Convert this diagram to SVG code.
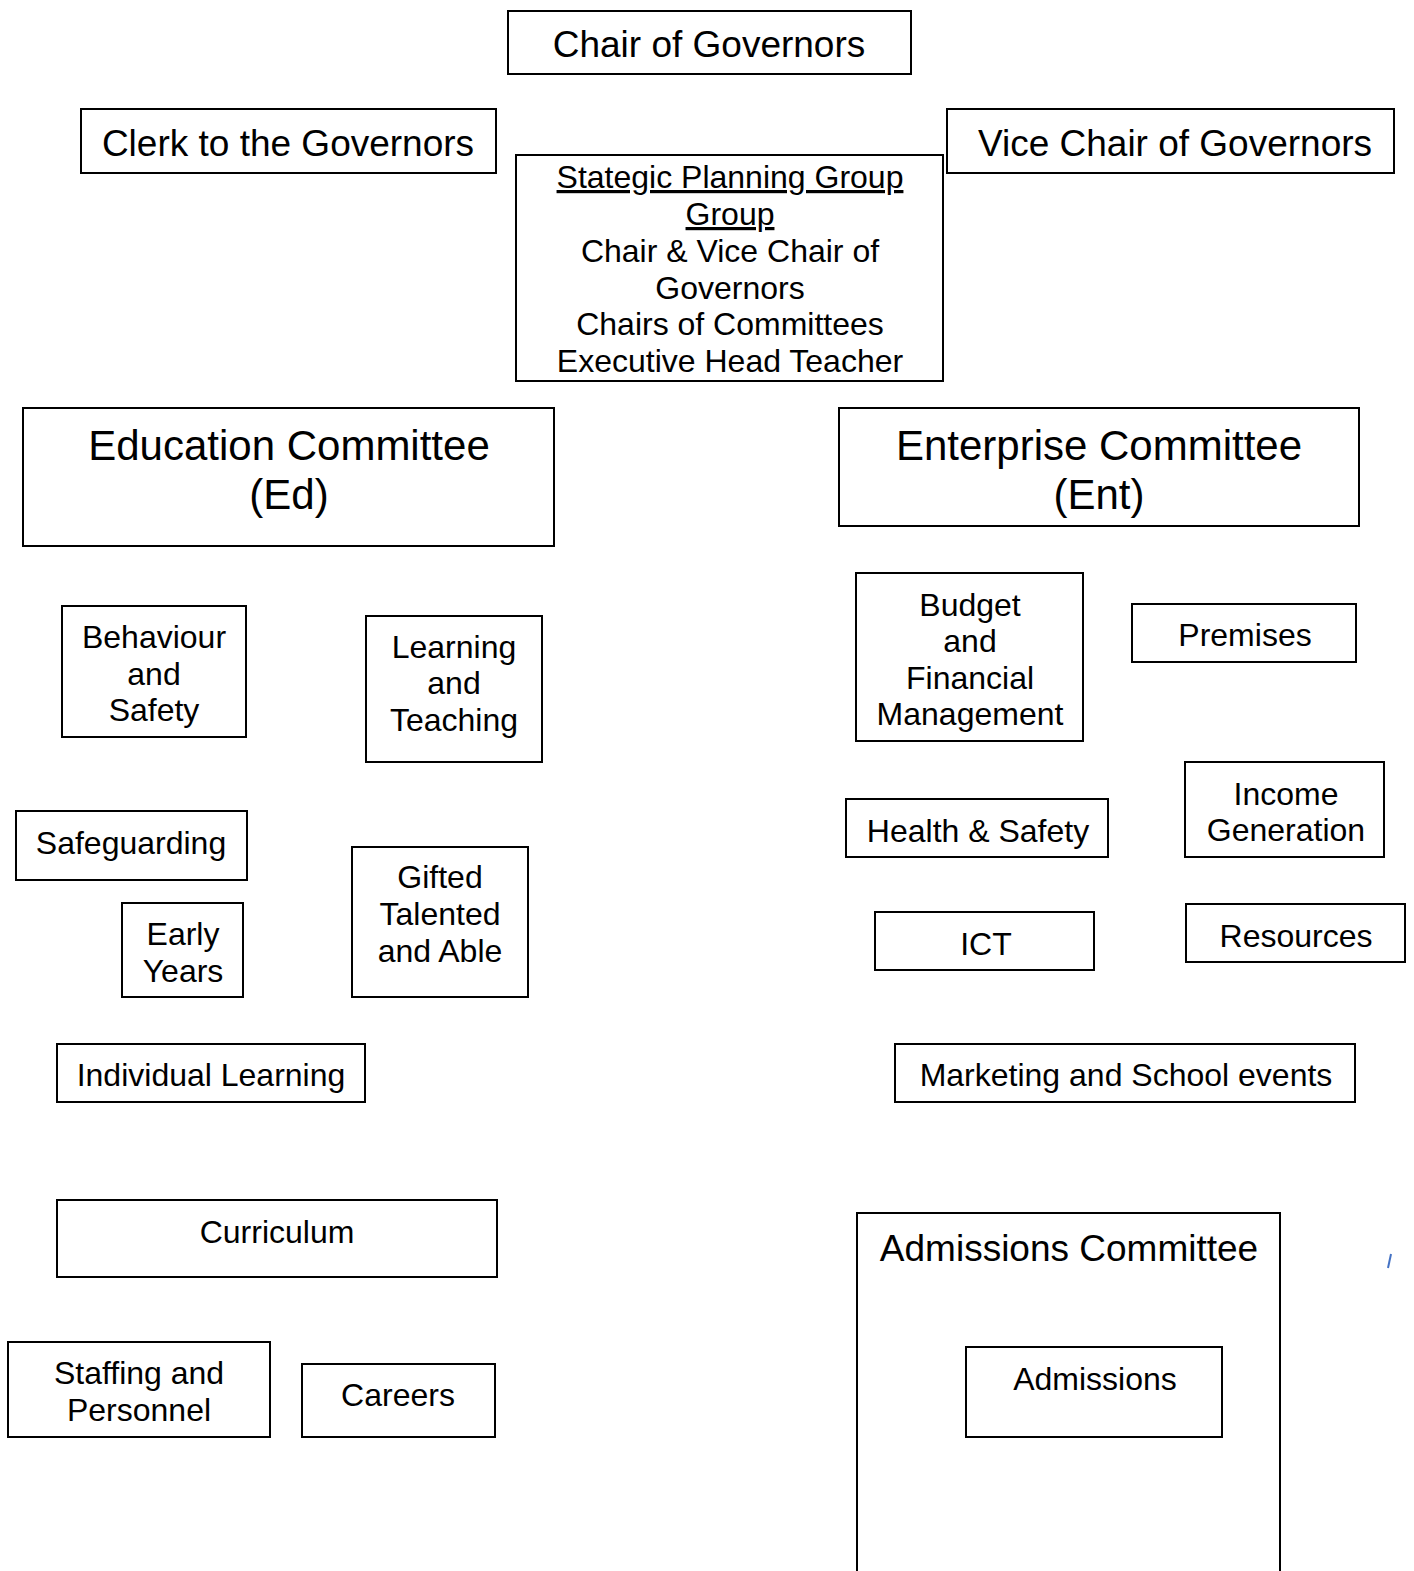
<svg xmlns="http://www.w3.org/2000/svg" width="1414" height="1571" viewBox="0 0 1414 1571">
<style>
rect.b{fill:#fff;stroke:#000;stroke-width:2}
text{font-family:"Liberation Sans",Arial,sans-serif;fill:#000;text-anchor:middle}
.t37{font-size:37px}
.t32{font-size:32px}
.t42{font-size:42px}
.t31{font-size:32px}
</style>
<rect width="1414" height="1571" fill="#fff"/>
<g id="chair"><rect class="b" x="508" y="11" width="403" height="63"/><text class="t37" x="709" y="57">Chair of Governors</text></g>
<g id="clerk"><rect class="b" x="81" y="109" width="415" height="64"/><text class="t37" x="288" y="156">Clerk to the Governors</text></g>
<g id="vice"><rect class="b" x="947" y="109" width="447" height="64"/><text class="t37" x="1175" y="156">Vice Chair of Governors</text></g>
<g id="spg"><rect class="b" x="516" y="155" width="427" height="226"/>
<text class="t31" x="730" y="188" text-decoration="underline">Stategic Planning Group</text>
<text class="t31" x="730" y="225" text-decoration="underline">Group</text>
<text class="t31" x="730" y="262">Chair &amp; Vice Chair of</text>
<text class="t31" x="730" y="299">Governors</text>
<text class="t31" x="730" y="335">Chairs of Committees</text>
<text class="t31" x="730" y="372">Executive Head Teacher</text></g>
<g id="ed"><rect class="b" x="23" y="408" width="531" height="138"/><text class="t42" x="289" y="460">Education Committee</text><text class="t42" x="289" y="509">(Ed)</text></g>
<g id="ent"><rect class="b" x="839" y="408" width="520" height="118"/><text class="t42" x="1099" y="460">Enterprise Committee</text><text class="t42" x="1099" y="509">(Ent)</text></g>
<g id="behaviour"><rect class="b" x="62" y="606" width="184" height="131"/><text class="t32" x="154" y="648">Behaviour</text><text class="t32" x="154" y="685">and</text><text class="t32" x="154" y="721">Safety</text></g>
<g id="learning"><rect class="b" x="366" y="616" width="176" height="146"/><text class="t32" x="454" y="658">Learning</text><text class="t32" x="454" y="694">and</text><text class="t32" x="454" y="731">Teaching</text></g>
<g id="safeguarding"><rect class="b" x="16" y="811" width="231" height="69"/><text class="t32" x="131" y="854">Safeguarding</text></g>
<g id="early"><rect class="b" x="122" y="903" width="121" height="94"/><text class="t32" x="183" y="945">Early</text><text class="t32" x="183" y="982">Years</text></g>
<g id="gifted"><rect class="b" x="352" y="847" width="176" height="150"/><text class="t32" x="440" y="888">Gifted</text><text class="t32" x="440" y="925">Talented</text><text class="t32" x="440" y="962">and Able</text></g>
<g id="individual"><rect class="b" x="57" y="1044" width="308" height="58"/><text class="t32" x="211" y="1086">Individual Learning</text></g>
<g id="curriculum"><rect class="b" x="57" y="1200" width="440" height="77"/><text class="t32" x="277" y="1243">Curriculum</text></g>
<g id="staffing"><rect class="b" x="8" y="1342" width="262" height="95"/><text class="t32" x="139" y="1384">Staffing and</text><text class="t32" x="139" y="1421">Personnel</text></g>
<g id="careers"><rect class="b" x="302" y="1364" width="193" height="73"/><text class="t32" x="398" y="1406">Careers</text></g>
<g id="budget"><rect class="b" x="856" y="573" width="227" height="168"/><text class="t32" x="970" y="616">Budget</text><text class="t32" x="970" y="652">and</text><text class="t32" x="970" y="689">Financial</text><text class="t32" x="970" y="725">Management</text></g>
<g id="premises"><rect class="b" x="1132" y="604" width="224" height="58"/><text class="t32" x="1245" y="646">Premises</text></g>
<g id="health"><rect class="b" x="846" y="799" width="262" height="58"/><text class="t32" x="978" y="842">Health &amp; Safety</text></g>
<g id="income"><rect class="b" x="1185" y="762" width="199" height="95"/><text class="t32" x="1286" y="805">Income</text><text class="t32" x="1286" y="841">Generation</text></g>
<g id="ict"><rect class="b" x="875" y="912" width="219" height="58"/><text class="t32" x="986" y="955">ICT</text></g>
<g id="resources"><rect class="b" x="1186" y="904" width="219" height="58"/><text class="t32" x="1296" y="947">Resources</text></g>
<g id="marketing"><rect class="b" x="895" y="1044" width="460" height="58"/><text class="t32" x="1126" y="1086">Marketing and School events</text></g>
<g id="admcom"><rect class="b" x="857" y="1213" width="423" height="370"/><text class="t37" x="1069" y="1261">Admissions Committee</text></g>
<g id="admissions"><rect class="b" x="966" y="1347" width="256" height="90"/><text class="t32" x="1095" y="1390">Admissions</text></g>
<g id="connectors"></g>
<line x1="1391" y1="1254" x2="1388" y2="1268" stroke="#4472C4" stroke-width="2"/>
</svg>
